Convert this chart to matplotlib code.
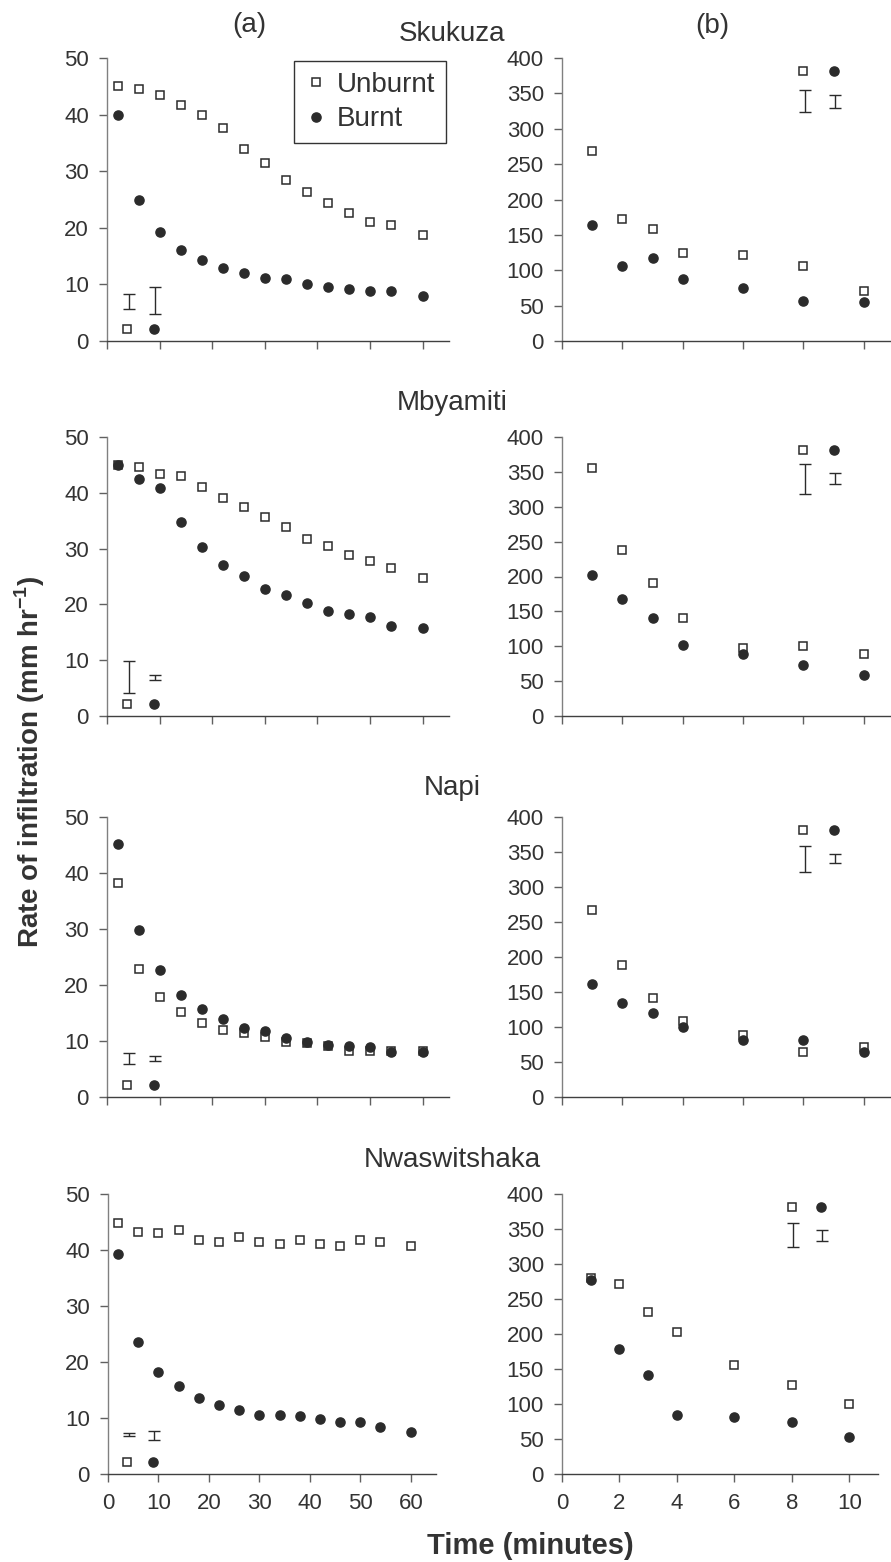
import matplotlib
matplotlib.use("Agg")
import matplotlib.pyplot as plt

plt.rcParams['font.family'] = ['Liberation Sans', 'DejaVu Sans']
plt.rcParams['mathtext.fontset'] = 'custom'
plt.rcParams['mathtext.rm'] = 'Liberation Sans'
plt.rcParams['mathtext.bf'] = 'Liberation Sans:bold'

TXT = '#333333'
MK = '#2b2b2b'

# sampling times (minutes)
t_a = [2, 6, 10, 14, 18, 22, 26, 30, 34, 38, 42, 46, 50, 54, 60]
t_b = [1, 2, 3, 4, 6, 8, 10]

sites = ['Skukuza', 'Mbyamiti', 'Napi', 'Nwaswitshaka']

# (a) infiltration rate, mm/hr
sk_a_unburnt = [45.1, 44.5, 43.4, 41.7, 40.0, 37.7, 34.0, 31.5, 28.4, 26.4, 24.4, 22.7, 21.1, 20.5, 18.8]
sk_a_burnt = [39.9, 25.0, 19.3, 16.0, 14.3, 12.9, 12.0, 11.2, 10.9, 10.0, 9.5, 9.2, 8.9, 8.9, 8.0]
mb_a_unburnt = [45.0, 44.7, 43.3, 43.0, 41.0, 39.0, 37.4, 35.6, 33.9, 31.7, 30.5, 28.8, 27.7, 26.6, 24.8]
mb_a_burnt = [45.0, 42.4, 40.8, 34.8, 30.2, 27.1, 25.1, 22.8, 21.7, 20.3, 18.9, 18.3, 17.7, 16.2, 15.7]
na_a_unburnt = [38.3, 22.8, 17.9, 15.1, 13.3, 12.0, 11.5, 10.8, 9.9, 9.6, 9.1, 8.3, 8.3, 8.2, 8.3]
na_a_burnt = [45.1, 29.8, 22.7, 18.2, 15.7, 14.0, 12.3, 11.7, 10.5, 9.9, 9.3, 9.1, 8.9, 8.1, 8.1]
nw_a_unburnt = [44.9, 43.2, 43.0, 43.5, 41.8, 41.5, 42.4, 41.5, 41.0, 41.8, 41.0, 40.7, 41.8, 41.5, 40.7]
nw_a_burnt = [39.2, 23.5, 18.3, 15.7, 13.5, 12.3, 11.5, 10.6, 10.6, 10.3, 9.8, 9.2, 9.2, 8.4, 7.5]

# (b) infiltration rate, mm/hr
sk_b_unburnt = [269, 173, 158, 124, 122, 106, 71]
sk_b_burnt = [164, 106, 117, 88, 75, 57, 55]
mb_b_unburnt = [356, 238, 190, 140, 98, 100, 89]
mb_b_burnt = [202, 168, 140, 102, 89, 73, 59]
na_b_unburnt = [267, 188, 141, 108, 89, 64, 71]
na_b_burnt = [162, 135, 120, 100, 82, 82, 64]
nw_b_unburnt = [280, 271, 231, 203, 156, 127, 100]
nw_b_burnt = [277, 179, 141, 84, 82, 75, 53]

# SE bars shown as a key (lower, upper) for unburnt / burnt
sk_a_se = [(5.6, 8.3), (4.7, 9.5)]
mb_a_se = [(4.2, 9.9), (6.4, 7.3)]
na_a_se = [(5.9, 7.8), (6.5, 7.4)]
nw_a_se = [(6.7, 7.3), (6.1, 7.7)]
sk_b_se = [(323, 355), (330, 348)]
mb_b_se = [(318, 362), (332, 348)]
na_b_se = [(322, 358), (335, 347)]
nw_b_se = [(324, 358), (333, 348)]

# key symbols beneath / beside the SE bars
key_x_a = [3.8, 8.9]
key_y_a = 2.1
bar_x_a = [4.1, 9.2]
key_x_b = [8.0, 9.0]
key_y_b = 381
bar_x_b = [8.05, 9.05]

data_a = [(sk_a_unburnt, sk_a_burnt, sk_a_se), (mb_a_unburnt, mb_a_burnt, mb_a_se),
          (na_a_unburnt, na_a_burnt, na_a_se), (nw_a_unburnt, nw_a_burnt, nw_a_se)]
data_b = [(sk_b_unburnt, sk_b_burnt, sk_b_se), (mb_b_unburnt, mb_b_burnt, mb_b_se),
          (na_b_unburnt, na_b_burnt, na_b_se), (nw_b_unburnt, nw_b_burnt, nw_b_se)]

W, H = 891, 1562
fig = plt.figure(figsize=(W / 100, H / 100), dpi=100)

# panel boxes in pixels (top, bottom) and (left, right)
rows_px = [(58, 341), (437, 716), (817, 1097), (1194, 1474)]
left_px = [(107, 449), (107, 449), (107, 449), (108, 436)]
right_px = [(562, 891), (562, 891), (562, 891), (562, 878)]
title_y = [34, 403, 788, 1160]


def px_axes(xr, yr):
    return fig.add_axes([xr[0] / W, 1 - yr[1] / H, (xr[1] - xr[0]) / W, (yr[1] - yr[0]) / H])


def style(ax, show_xlabels):
    for s in ['top', 'right']:
        ax.spines[s].set_visible(False)
    ax.spines['left'].set_color('#808080')
    ax.spines['bottom'].set_color('#404040')
    ax.spines['left'].set_linewidth(1.0)
    ax.spines['bottom'].set_linewidth(1.0)
    ax.tick_params(axis='both', direction='out', length=6, width=1.0, color='#606060',
                   labelsize=16, labelcolor=TXT)
    ax.tick_params(axis='y', pad=7)
    ax.tick_params(axis='x', pad=8, labelbottom=show_xlabels)


def draw(ax, t, unburnt, burnt, se, key_x, key_y, bar_x):
    ax.plot(t, unburnt, 's', ms=5.5, mfc='white', mec=MK, mew=1.1, clip_on=False, label='Unburnt')
    ax.plot(t, burnt, 'o', ms=6.6, mfc=MK, mec=MK, clip_on=False, label='Burnt')
    ax.plot(key_x[0], key_y, 's', ms=5.5, mfc='white', mec=MK, mew=1.1, clip_on=False)
    ax.plot(key_x[1], key_y, 'o', ms=6.6, mfc=MK, mec=MK, clip_on=False)
    for bx, (lo, hi) in zip(bar_x, se):
        ax.errorbar(bx, (lo + hi) / 2, yerr=(hi - lo) / 2, fmt='none', ecolor=MK,
                    elinewidth=1.0, capsize=4.5, capthick=1.0)


for i in range(4):
    last = i == 3
    axa = px_axes(left_px[i], rows_px[i])
    ua, ba, sea = data_a[i]
    draw(axa, t_a, ua, ba, sea, key_x_a, key_y_a, bar_x_a)
    axa.set_xlim(0, 65)
    axa.set_ylim(0, 50)
    axa.set_xticks(range(0, 61, 10))
    axa.set_yticks(range(0, 51, 10))
    style(axa, last)

    axb = px_axes(right_px[i], rows_px[i])
    ub, bb, seb = data_b[i]
    draw(axb, t_b, ub, bb, seb, key_x_b, key_y_b, bar_x_b)
    axb.set_xlim(0, 11 if last else 10.9)
    axb.set_ylim(0, 400)
    axb.set_xticks(range(0, 11, 2))
    axb.set_yticks(range(0, 401, 50))
    style(axb, last)

    fig.text(452 / W, 1 - title_y[i] / H, sites[i], ha='center', va='center',
             fontsize=20, color=TXT)

    if i == 0:
        leg = axa.legend(loc='upper right', bbox_to_anchor=(1.0, 1.0), fontsize=20,
                         frameon=True, fancybox=False, framealpha=1, edgecolor='#333333',
                         handlelength=0.8, handletextpad=0.35, labelspacing=0.3,
                         borderpad=0.4, borderaxespad=0.1, labelcolor=TXT)
        leg.get_frame().set_linewidth(1.0)

fig.text(249 / W, 1 - 25 / H, '(a)', ha='center', va='center', fontsize=20, color=TXT)
fig.text(712 / W, 1 - 26 / H, '(b)', ha='center', va='center', fontsize=20, color=TXT)

fig.text(30 / W, 1 - 762 / H, r'Rate of infiltration (mm hr$^{\mathbf{-1}}$)', rotation=90,
         ha='center', va='center', fontsize=20, fontweight='bold', color=TXT)
fig.text(530 / W, 1 - 1546 / H, 'Time (minutes)', ha='center', va='center',
         fontsize=21, fontweight='bold', color=TXT)

fig.savefig('out.png', dpi=100)
